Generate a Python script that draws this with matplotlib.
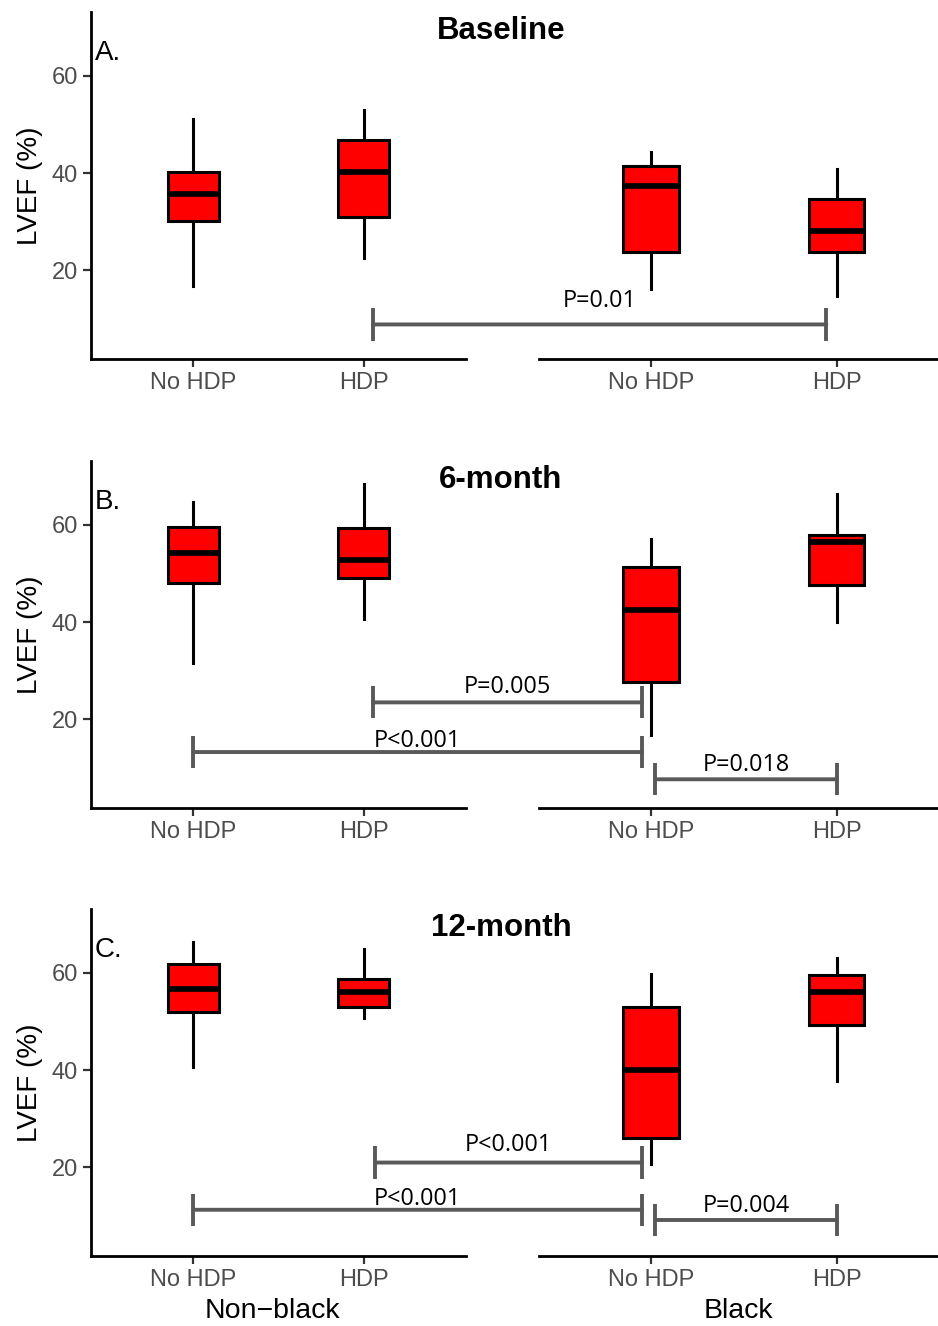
import numpy as np
import matplotlib
matplotlib.use("Agg")
import matplotlib.pyplot as plt
from matplotlib.patches import ConnectionPatch

plt.rcParams['font.family'] = ['Liberation Sans', 'DejaVu Sans']

titles = ["Baseline", "6-month", "12-month"]
tags = ["A.", "B.", "C."]
groups = ["Non\u2212black", "Black"]
categories = ["No HDP", "HDP"]

# (whislo, q1, med, q3, whishi) for [Non-black, Black] x [No HDP, HDP]
baseline = [[(16.9, 30.1, 35.7, 40.2, 51.1), (22.5, 30.9, 40.2, 46.8, 53.0)],
            [(16.1, 23.7, 37.3, 41.4, 44.3), (14.8, 23.7, 28.0, 34.6, 40.8)]]
month6 = [[(31.6, 48.1, 54.1, 59.6, 64.7), (40.7, 49.1, 52.8, 59.4, 68.3)],
          [(16.9, 27.7, 42.5, 51.4, 57.1), (40.1, 47.6, 56.4, 57.8, 66.3)]]
month12 = [[(40.7, 51.9, 56.7, 61.8, 66.3), (50.7, 53.0, 56.1, 58.7, 64.8)],
           [(20.7, 26.0, 40.1, 53.0, 59.7), (37.7, 49.3, 56.1, 59.5, 63.1)]]
panels = [baseline, month6, month12]

# p-value brackets: (group1, x1, group2, x2, y of line, label, y of label baseline)
brackets = [
    [(0, 2.054, 1, 1.945, 8.9, "P=0.01", 12.4)],
    [(0, 2.054, 1, 0.952, 23.5, "P=0.005", 25.5),
     (0, 1.0, 1, 0.952, 13.3, "P<0.001", 14.3),
     (1, 1.025, 1, 2.0, 7.7, "P=0.018", 9.3)],
    [(0, 2.066, 1, 0.952, 21.0, "P<0.001", 23.3),
     (0, 1.0, 1, 0.952, 11.3, "P<0.001", 12.35),
     (1, 1.025, 1, 2.0, 9.2, "P=0.004", 10.8)],
]

W, H = 938, 1326
fig = plt.figure(figsize=(W / 100, H / 100), dpi=100)

def px_axes(x0, x1, y0, y1):
    return fig.add_axes([x0 / W, 1 - y1 / H, (x1 - x0) / W, (y1 - y0) / H])

rows = [(12, 359), (461, 808), (909, 1256)]
gray_line = '#595959'

for i, (top, bot) in enumerate(rows):
    axes = [px_axes(91, 466, top, bot), px_axes(539.2, 948, top, bot)]
    for g, ax in enumerate(axes):
        stats = []
        for c, s in enumerate(panels[i][g]):
            stats.append(dict(whislo=s[0], q1=s[1], med=s[2], q3=s[3], whishi=s[4], label=categories[c]))
        ax.bxp(stats, positions=[1, 2], widths=0.3, patch_artist=True,
               showfliers=False, showcaps=False,
               boxprops=dict(facecolor='#FF0000', edgecolor='black', linewidth=2.2),
               medianprops=dict(color='black', linewidth=4.1, solid_capstyle='butt'),
               whiskerprops=dict(color='black', linewidth=2.2))
        ax.set_xlim(0.4, 2.6)
        ax.set_ylim(1.8, 73.1)
        ax.set_xticks([1, 2], categories)
        ax.set_yticks([20, 40, 60])
        for sp in ['top', 'right']:
            ax.spines[sp].set_visible(False)
        for sp in ['left', 'bottom']:
            ax.spines[sp].set_linewidth(2)
        ax.tick_params(axis='both', length=5.5, width=1.6, color='#333333',
                       labelsize=17, labelcolor='#4D4D4D', pad=4)
        ax.patch.set_alpha(0)
    axes[1].spines['left'].set_visible(False)
    axes[1].tick_params(axis='y', left=False, labelleft=False)
    axes[0].set_ylabel("LVEF (%)", fontsize=20, labelpad=6)

    fig.text(501 / W, 1 - (top + 19) / H, titles[i], ha='center', va='center',
             fontsize=22.5, fontweight='bold')
    fig.text(95 / W, 1 - (top + 41) / H, tags[i], ha='left', va='center', fontsize=20)

    for g1, x1, g2, x2, y, lab, ly in brackets[i]:
        a1, a2 = axes[g1], axes[g2]
        con = ConnectionPatch(xyA=(x1, y), coordsA='data', axesA=a1,
                              xyB=(x2, y), coordsB='data', axesB=a2,
                              color=gray_line, lw=2.8)
        fig.add_artist(con)
        for a, x in ((a1, x1), (a2, x2)):
            a.plot([x, x], [y - 3.3, y + 3.3], color=gray_line, lw=2.8,
                   clip_on=False, solid_capstyle='butt')
        p1 = a1.transData.transform((x1, ly))
        p2 = a2.transData.transform((x2, ly))
        mid = fig.transFigure.inverted().transform((p1 + p2) / 2)
        fig.text(mid[0], mid[1], lab, ha='center', va='baseline',
                 fontsize=16.8, family=['Open Sans', 'DejaVu Sans'])

fig.text(272 / W, 1 - 1311 / H, groups[0], ha='center', va='center', fontsize=20.5)
fig.text(738 / W, 1 - 1311 / H, groups[1], ha='center', va='center', fontsize=20.5)

fig.savefig("out.png", dpi=100)
